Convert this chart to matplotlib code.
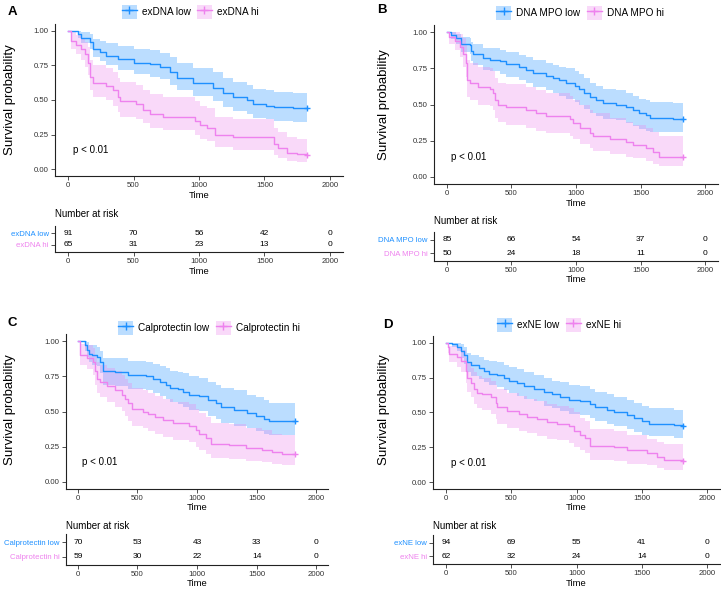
import matplotlib
matplotlib.use("Agg")
import matplotlib.pyplot as plt
from matplotlib.lines import Line2D
from matplotlib.patches import Patch

LOW_COL = "#1E90FF"
HI_COL = "#EE82EE"
REG = ["Liberation Sans", "DejaVu Sans"]

# ---------------- data ----------------
# Panel A: exDNA
a_low_t = [0, 76, 100, 165, 190, 240, 290, 380, 500, 625, 700, 780, 830, 955, 1110, 1185, 1260, 1365, 1415, 1515, 1570, 1720, 1822]
a_low_s = [1.00, 0.98, 0.95, 0.92, 0.87, 0.85, 0.82, 0.80, 0.77, 0.76, 0.74, 0.70, 0.66, 0.62, 0.59, 0.55, 0.52, 0.50, 0.47, 0.46, 0.45, 0.44, 0.44]
a_low_lo = [1.00, 0.95, 0.91, 0.87, 0.81, 0.78, 0.75, 0.72, 0.69, 0.67, 0.65, 0.61, 0.57, 0.53, 0.49, 0.45, 0.42, 0.40, 0.37, 0.36, 0.35, 0.34, 0.34]
a_low_hi = [1.00, 1.00, 0.99, 0.98, 0.94, 0.93, 0.91, 0.89, 0.87, 0.86, 0.84, 0.81, 0.77, 0.73, 0.70, 0.66, 0.63, 0.61, 0.58, 0.57, 0.56, 0.55, 0.55]
a_hi_t = [0, 25, 60, 100, 127, 150, 165, 190, 290, 345, 380, 395, 520, 575, 625, 725, 970, 1005, 1060, 1120, 1260, 1570, 1605, 1670, 1750, 1822]
a_hi_s = [1.00, 0.93, 0.90, 0.87, 0.83, 0.77, 0.67, 0.62, 0.60, 0.57, 0.52, 0.49, 0.47, 0.43, 0.40, 0.38, 0.35, 0.32, 0.30, 0.25, 0.23, 0.18, 0.15, 0.12, 0.11, 0.10]
a_hi_lo = [1.00, 0.87, 0.83, 0.79, 0.74, 0.68, 0.57, 0.52, 0.50, 0.46, 0.41, 0.38, 0.36, 0.33, 0.30, 0.28, 0.25, 0.22, 0.20, 0.16, 0.14, 0.10, 0.08, 0.06, 0.05, 0.05]
a_hi_hi = [1.00, 0.99, 0.97, 0.95, 0.92, 0.88, 0.79, 0.75, 0.73, 0.70, 0.66, 0.63, 0.61, 0.57, 0.54, 0.52, 0.49, 0.46, 0.44, 0.38, 0.36, 0.30, 0.27, 0.23, 0.22, 0.21]
a_risk_low = [91, 70, 56, 42, 0]
a_risk_hi = [65, 31, 23, 13, 0]

# Panel B: DNA MPO
b_low_t = [0, 35, 72, 110, 175, 188, 200, 280, 330, 410, 460, 560, 615, 665, 770, 820, 870, 925, 990, 1025, 1065, 1105, 1155, 1210, 1310, 1390, 1440, 1490, 1545, 1570, 1750, 1827]
b_low_s = [1.00, 0.98, 0.96, 0.92, 0.91, 0.87, 0.85, 0.82, 0.81, 0.80, 0.78, 0.76, 0.74, 0.72, 0.70, 0.68, 0.67, 0.65, 0.63, 0.61, 0.58, 0.55, 0.53, 0.51, 0.50, 0.48, 0.46, 0.44, 0.43, 0.41, 0.40, 0.40]
b_low_lo = [1.00, 0.95, 0.92, 0.86, 0.85, 0.80, 0.77, 0.74, 0.73, 0.71, 0.69, 0.67, 0.65, 0.62, 0.60, 0.58, 0.56, 0.54, 0.52, 0.50, 0.47, 0.44, 0.42, 0.40, 0.39, 0.37, 0.35, 0.33, 0.32, 0.31, 0.31, 0.31]
b_low_hi = [1.00, 1.00, 0.99, 0.97, 0.96, 0.93, 0.92, 0.89, 0.89, 0.88, 0.86, 0.84, 0.83, 0.81, 0.79, 0.77, 0.76, 0.75, 0.73, 0.71, 0.68, 0.65, 0.63, 0.61, 0.60, 0.58, 0.56, 0.54, 0.53, 0.52, 0.51, 0.51]
b_hi_t = [0, 20, 60, 98, 124, 145, 155, 175, 240, 330, 355, 375, 395, 460, 615, 690, 770, 950, 975, 1030, 1105, 1130, 1260, 1390, 1440, 1545, 1595, 1645, 1827]
b_hi_s = [1.00, 0.97, 0.94, 0.90, 0.85, 0.79, 0.67, 0.65, 0.62, 0.61, 0.58, 0.53, 0.50, 0.48, 0.46, 0.44, 0.42, 0.40, 0.37, 0.34, 0.30, 0.28, 0.26, 0.24, 0.22, 0.20, 0.17, 0.14, 0.14]
b_hi_lo = [1.00, 0.92, 0.88, 0.83, 0.76, 0.69, 0.55, 0.53, 0.50, 0.49, 0.46, 0.41, 0.38, 0.36, 0.34, 0.32, 0.30, 0.28, 0.26, 0.23, 0.20, 0.18, 0.16, 0.14, 0.13, 0.11, 0.09, 0.075, 0.075]
b_hi_hi = [1.00, 1.00, 1.00, 0.99, 0.96, 0.91, 0.81, 0.79, 0.76, 0.75, 0.73, 0.68, 0.65, 0.64, 0.62, 0.60, 0.58, 0.56, 0.53, 0.50, 0.46, 0.44, 0.41, 0.38, 0.36, 0.34, 0.31, 0.28, 0.28]
b_risk_low = [85, 66, 54, 37, 0]
b_risk_hi = [50, 24, 18, 11, 0]

# Panel C: Calprotectin
c_low_t = [0, 60, 80, 97, 115, 158, 186, 214, 311, 423, 575, 630, 687, 742, 770, 840, 880, 937, 1020, 1090, 1160, 1200, 1312, 1423, 1493, 1562, 1604, 1826]
c_low_s = [1.00, 0.97, 0.94, 0.91, 0.90, 0.89, 0.85, 0.79, 0.78, 0.76, 0.75, 0.73, 0.71, 0.69, 0.67, 0.66, 0.64, 0.62, 0.61, 0.58, 0.56, 0.53, 0.51, 0.49, 0.47, 0.45, 0.43, 0.43]
c_low_lo = [1.00, 0.93, 0.89, 0.85, 0.83, 0.82, 0.77, 0.69, 0.68, 0.66, 0.65, 0.63, 0.61, 0.59, 0.57, 0.55, 0.53, 0.51, 0.50, 0.47, 0.45, 0.42, 0.40, 0.38, 0.36, 0.34, 0.33, 0.33]
c_low_hi = [1.00, 1.00, 0.99, 0.97, 0.97, 0.96, 0.93, 0.88, 0.88, 0.86, 0.85, 0.84, 0.82, 0.81, 0.79, 0.78, 0.77, 0.75, 0.74, 0.71, 0.69, 0.67, 0.65, 0.62, 0.60, 0.58, 0.56, 0.56]
c_hi_t = [0, 20, 80, 130, 145, 158, 186, 242, 311, 367, 395, 423, 450, 548, 590, 645, 715, 798, 937, 992, 1020, 1076, 1118, 1270, 1410, 1548, 1632, 1715, 1826]
c_hi_s = [1.00, 0.90, 0.88, 0.85, 0.79, 0.73, 0.71, 0.68, 0.65, 0.62, 0.59, 0.56, 0.52, 0.50, 0.48, 0.46, 0.44, 0.42, 0.40, 0.37, 0.34, 0.31, 0.27, 0.26, 0.24, 0.23, 0.21, 0.20, 0.20]
c_hi_lo = [1.00, 0.83, 0.80, 0.76, 0.69, 0.63, 0.60, 0.57, 0.53, 0.50, 0.47, 0.43, 0.40, 0.38, 0.36, 0.34, 0.32, 0.30, 0.28, 0.25, 0.23, 0.20, 0.17, 0.16, 0.15, 0.14, 0.13, 0.12, 0.12]
c_hi_hi = [1.00, 0.98, 0.97, 0.95, 0.90, 0.85, 0.83, 0.81, 0.79, 0.76, 0.73, 0.70, 0.67, 0.65, 0.63, 0.61, 0.59, 0.57, 0.55, 0.52, 0.49, 0.46, 0.42, 0.41, 0.38, 0.37, 0.34, 0.33, 0.33]
c_risk_low = [70, 53, 43, 33, 0]
c_risk_hi = [59, 30, 22, 14, 0]

# Panel D: exNE
d_low_t = [0, 48, 87, 112, 138, 163, 189, 252, 290, 330, 393, 444, 482, 546, 597, 673, 750, 813, 877, 940, 1030, 1107, 1145, 1234, 1285, 1387, 1438, 1500, 1553, 1744, 1820]
d_low_s = [1.00, 0.99, 0.97, 0.94, 0.91, 0.86, 0.84, 0.82, 0.80, 0.78, 0.77, 0.75, 0.73, 0.71, 0.69, 0.67, 0.65, 0.63, 0.61, 0.59, 0.58, 0.56, 0.54, 0.52, 0.50, 0.48, 0.46, 0.44, 0.42, 0.41, 0.40]
d_low_lo = [1.00, 0.97, 0.94, 0.89, 0.85, 0.79, 0.76, 0.74, 0.72, 0.70, 0.68, 0.66, 0.64, 0.62, 0.60, 0.58, 0.55, 0.53, 0.51, 0.49, 0.48, 0.46, 0.44, 0.42, 0.40, 0.38, 0.36, 0.34, 0.33, 0.32, 0.32]
d_low_hi = [1.00, 1.00, 1.00, 0.99, 0.97, 0.93, 0.91, 0.90, 0.88, 0.87, 0.86, 0.84, 0.83, 0.81, 0.79, 0.77, 0.75, 0.73, 0.72, 0.70, 0.69, 0.67, 0.65, 0.63, 0.61, 0.59, 0.57, 0.55, 0.53, 0.52, 0.52]
d_hi_t = [0, 15, 23, 87, 112, 150, 163, 189, 214, 240, 278, 342, 380, 393, 469, 558, 622, 699, 775, 852, 941, 979, 1030, 1068, 1107, 1285, 1387, 1540, 1617, 1668, 1820]
d_hi_s = [1.00, 0.97, 0.92, 0.90, 0.87, 0.80, 0.75, 0.71, 0.67, 0.64, 0.63, 0.61, 0.57, 0.54, 0.51, 0.49, 0.47, 0.45, 0.43, 0.42, 0.40, 0.37, 0.34, 0.32, 0.26, 0.25, 0.23, 0.21, 0.18, 0.16, 0.15]
d_hi_lo = [1.00, 0.93, 0.86, 0.83, 0.79, 0.71, 0.65, 0.61, 0.56, 0.53, 0.52, 0.49, 0.45, 0.42, 0.39, 0.37, 0.35, 0.33, 0.31, 0.30, 0.28, 0.25, 0.23, 0.21, 0.16, 0.15, 0.13, 0.12, 0.10, 0.09, 0.085]
d_hi_hi = [1.00, 1.00, 0.98, 0.97, 0.95, 0.89, 0.86, 0.82, 0.79, 0.76, 0.75, 0.73, 0.70, 0.67, 0.64, 0.62, 0.60, 0.58, 0.56, 0.55, 0.53, 0.50, 0.46, 0.44, 0.38, 0.37, 0.34, 0.31, 0.29, 0.27, 0.26]
d_risk_low = [94, 69, 55, 41, 0]
d_risk_hi = [62, 32, 24, 14, 0]

risk_times = [0, 500, 1000, 1500, 2000]
x_ticks = [0, 500, 1000, 1500, 2000]
y_ticks = [0.00, 0.25, 0.50, 0.75, 1.00]

panels = [
    dict(letter="A", labels=("exDNA low", "exDNA hi"),
         low=(a_low_t, a_low_s, a_low_lo, a_low_hi), hi=(a_hi_t, a_hi_s, a_hi_lo, a_hi_hi),
         risk=(a_risk_low, a_risk_hi),
         km=(55, 24, 343, 176), tab=(55, 226, 343, 252), leg=(190, 12), let=(8, 12), ylab=(10, 100),
         time1=195, nar=214, time2=272),
    dict(letter="B", labels=("DNA MPO low", "DNA MPO hi"),
         low=(b_low_t, b_low_s, b_low_lo, b_low_hi), hi=(b_hi_t, b_hi_s, b_hi_lo, b_hi_hi),
         risk=(b_risk_low, b_risk_hi),
         km=(434, 25, 718, 184), tab=(434, 232, 718, 261), leg=(580, 13), let=(377, 10), ylab=(384, 105),
         time1=203, nar=221, time2=280),
    dict(letter="C", labels=("Calprotectin low", "Calprotectin hi"),
         low=(c_low_t, c_low_s, c_low_lo, c_low_hi), hi=(c_hi_t, c_hi_s, c_hi_lo, c_hi_hi),
         risk=(c_risk_low, c_risk_hi),
         km=(66, 334, 328, 489), tab=(66, 534, 328, 565), leg=(209, 328), let=(8, 323), ylab=(10, 410),
         time1=508, nar=526, time2=584),
    dict(letter="D", labels=("exNE low", "exNE hi"),
         low=(d_low_t, d_low_s, d_low_lo, d_low_hi), hi=(d_hi_t, d_hi_s, d_hi_lo, d_hi_hi),
         risk=(d_risk_low, d_risk_hi),
         km=(433, 336, 720, 489), tab=(433, 535, 720, 564), leg=(559, 325), let=(383, 325), ylab=(384, 410),
         time1=508, nar=526, time2=584),
]

W, H = 721, 589
fig = plt.figure(figsize=(W / 100, H / 100), dpi=100)


def rect(l, t, r, b):
    return [l / W, 1 - b / H, (r - l) / W, (b - t) / H]


def fx(x):
    return x / W


def fy(y):
    return 1 - y / H


def style_axis(ax):
    for side in ("top", "right"):
        ax.spines[side].set_visible(False)
    for side in ("left", "bottom"):
        ax.spines[side].set_color("#222222")
        ax.spines[side].set_linewidth(0.8)
    ax.tick_params(length=3, width=0.6, color="#333333", labelsize=5.6,
                   labelcolor="#333333", pad=1.5)
    for lab in ax.get_xticklabels() + ax.get_yticklabels():
        lab.set_family(REG)


for p in panels:
    ax = fig.add_axes(rect(*p["km"]))
    for curve, col in ((p["low"], LOW_COL), (p["hi"], HI_COL)):
        t, s, lo, hi = curve
        ax.fill_between(t, lo, hi, step="post", color=col, alpha=0.3, lw=0)
        ax.step(t, s, where="post", color=col, lw=1.0)
        ax.plot(t[-1], s[-1], marker="+", color=col, ms=5, mew=1.0)
    ax.set_xlim(-100, 2100)
    ax.set_ylim(-0.05, 1.05)
    ax.set_xticks(x_ticks)
    ax.set_yticks(y_ticks)
    ax.set_yticklabels([f"{v:.2f}" for v in y_ticks])
    style_axis(ax)
    ax.text(35, 0.14, "p < 0.01", fontsize=7, family=REG, va="center", ha="left")

    l, t_, r, b = p["km"]
    cx = (l + r) / 2
    fig.text(fx(cx), fy(p["time1"]), "Time", fontsize=6.8, family=REG, ha="center", va="center")
    fig.text(fx(p["ylab"][0]), fy(p["ylab"][1]), "Survival probability", fontsize=9.5,
             family=REG, rotation=90, ha="center", va="center")
    fig.text(fx(p["let"][0]), fy(p["let"][1]), p["letter"], fontsize=9.5, weight="bold",
             family=REG, ha="left", va="center")

    handles = [
        (Patch(facecolor=LOW_COL, alpha=0.3, lw=0),
         Line2D([], [], color=LOW_COL, lw=1.0, marker="+", ms=6, mew=1.0)),
        (Patch(facecolor=HI_COL, alpha=0.3, lw=0),
         Line2D([], [], color=HI_COL, lw=1.0, marker="+", ms=6, mew=1.0)),
    ]
    fig.legend(handles, list(p["labels"]), loc="center",
               bbox_to_anchor=(fx(p["leg"][0]), fy(p["leg"][1])), ncol=2, frameon=False,
               prop={"family": REG, "size": 7.2}, handlelength=1.5, handleheight=1.7,
               handletextpad=0.5, columnspacing=0.6, borderpad=0, borderaxespad=0)

    # risk table
    tx = fig.add_axes(rect(*p["tab"]))
    low_n, hi_n = p["risk"]
    for tt, n in zip(risk_times, low_n):
        tx.text(tt, 2, str(n), ha="center", va="center", fontsize=6.0, family=REG)
    for tt, n in zip(risk_times, hi_n):
        tx.text(tt, 1, str(n), ha="center", va="center", fontsize=6.0, family=REG)
    tx.set_xlim(-100, 2100)
    tx.set_ylim(0.4, 2.6)
    tx.set_xticks(x_ticks)
    tx.set_yticks([1, 2])
    tx.set_yticklabels([p["labels"][1], p["labels"][0]])
    style_axis(tx)
    tx.get_yticklabels()[0].set_color(HI_COL)
    tx.get_yticklabels()[1].set_color(LOW_COL)
    fig.text(fx(p["tab"][0]), fy(p["nar"]), "Number at risk", fontsize=7, family=REG,
             ha="left", va="center")
    fig.text(fx(cx), fy(p["time2"]), "Time", fontsize=6.8, family=REG, ha="center", va="center")

fig.savefig("out.png", dpi=100)
